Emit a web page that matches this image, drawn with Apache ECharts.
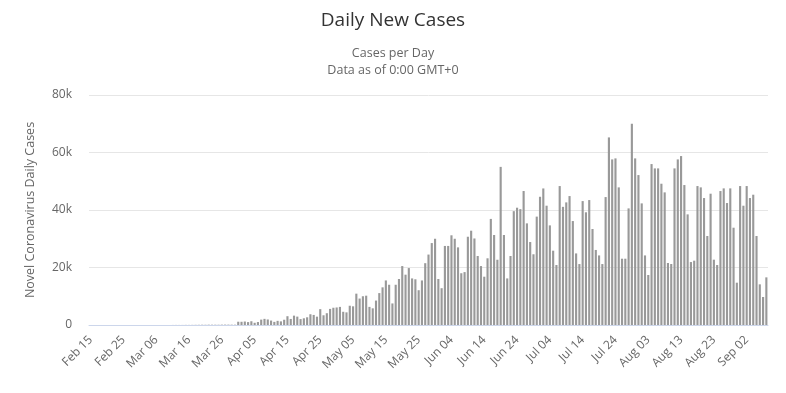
<!DOCTYPE html>
<html>
<head>
<meta charset="utf-8">
<script src="https://cdn.jsdelivr.net/npm/echarts@6/dist/echarts.min.js"></script>
<style>
html,body{margin:0;padding:0;background:#fff;}
#chart{width:786px;height:393px;}
</style>
</head>
<body>
<div id="chart"></div>
<script>
const titleText = "Daily New Cases";
const subtitleLines = ["Cases per Day", "Data as of 0:00 GMT+0"];
const yAxisName = "Novel Coronavirus Daily Cases";
const yTicks = [0, 20000, 40000, 60000, 80000];

// Feb 15 .. Sep 08 (daily)
const startDate = {month: 1, day: 15};
const dailyCases = [
  0,0,0,0,0,0,0,0,0,0,0,           // Feb 15-25
  1,0,0,1,                         // Feb 26-29
  0,0,0,1,5,5,6,6,5,9,18,25,21,23,40,34,45,60,70,90,80,110,100,95,90,120,130,125,110,100,1138, // Mar 1-31
  1119,1208,1012,1304,770,1031,1873,2136,1922,1546,1089,1442,1261,1832,3058,2105,3257,2917,2055,2336,2678,3735,3503,2900,5514,3379,4100,5600,6000,6100, // Apr
  6300,4600,4400,6700,6500,10900,9200,10000,10200,6300,5800,8500,11100,13100,15500,14000,7500,14000,16000,20500,17500,19800,16200,15900,12100,15500,21500,24500,28500,30000,16000, // May
  12800,27500,27500,31200,30000,27000,18000,18400,30700,32800,30100,24000,20500,16800,23200,36900,31300,22700,55000,31300,16200,24000,39600,40800,40300,46600,35350,28860,24600,37700, // Jun
  44600,47500,41500,34650,25850,20860,48330,41100,42650,44850,36160,24900,21200,43100,39200,43460,33400,26100,24200,21200,44500,65250,57600,57950,47870,23060,23060,40560,70000,57950,52150, // Jul
  42300,24200,17390,55980,54470,54470,49140,46130,21560,21210,54470,57600,58760,48680,38480,21900,22370,48330,47870,44160,30950,45670,22720,20860,46590,47520,42420,47520,33840,14720,48330, // Aug
  41490,48330,44160,45320,30950,14140,9740,16570 // Sep 1-8
];

const monthNames = ["Jan","Feb","Mar","Apr","May","Jun","Jul","Aug","Sep","Oct","Nov","Dec"];
const categories = [];
{
  let d = new Date(Date.UTC(2020, startDate.month, startDate.day));
  for (let i = 0; i < dailyCases.length; i++) {
    const dd = String(d.getUTCDate()).padStart(2, '0');
    categories.push(monthNames[d.getUTCMonth()] + ' ' + dd);
    d = new Date(d.getTime() + 86400000);
  }
}

const chart = echarts.init(document.getElementById('chart'), null, {renderer: 'canvas'});
const font = '"Open Sans", "DejaVu Sans", sans-serif';
chart.setOption({
  animation: false,
  backgroundColor: '#ffffff',
  title: [
    {text: titleText, left: 'center', top: 6,
     textStyle: {fontFamily: font, fontSize: 19, fontWeight: 'normal', color: '#333333'}},
    {text: subtitleLines.join('\n'), left: 'center', top: 40,
     textStyle: {fontFamily: font, fontSize: 12.5, fontWeight: 'normal', color: '#666666', lineHeight: 17}}
  ],
  grid: {left: 89, right: 18, top: 95, bottom: 68, containLabel: false},
  xAxis: {
    type: 'category',
    data: categories,
    boundaryGap: true,
    z: 3,
    axisLine: {show: true, lineStyle: {color: '#ccd6eb', width: 1}},
    axisTick: {show: false},
    axisLabel: {interval: 9, rotate: 45, color: '#666666', fontFamily: font, fontSize: 12, margin: 13}
  },
  yAxis: {
    type: 'value',
    min: 0, max: 80000, interval: 20000,
    name: yAxisName,
    nameLocation: 'middle',
    nameGap: 52,
    nameTextStyle: {color: '#666666', fontFamily: font, fontSize: 12.5},
    axisLine: {show: false},
    axisTick: {show: false},
    splitLine: {lineStyle: {color: '#e6e6e6', width: 1}},
    axisLabel: {
      color: '#666666', fontFamily: font, fontSize: 12, margin: 17,
      formatter: v => yTicks.includes(v) ? (v === 0 ? '0' : (v / 1000) + 'k') : ''
    }
  },
  series: [{
    type: 'bar',
    data: dailyCases,
    barCategoryGap: '35%',
    itemStyle: {color: '#999999'}
  }]
});
</script>
</body>
</html>
